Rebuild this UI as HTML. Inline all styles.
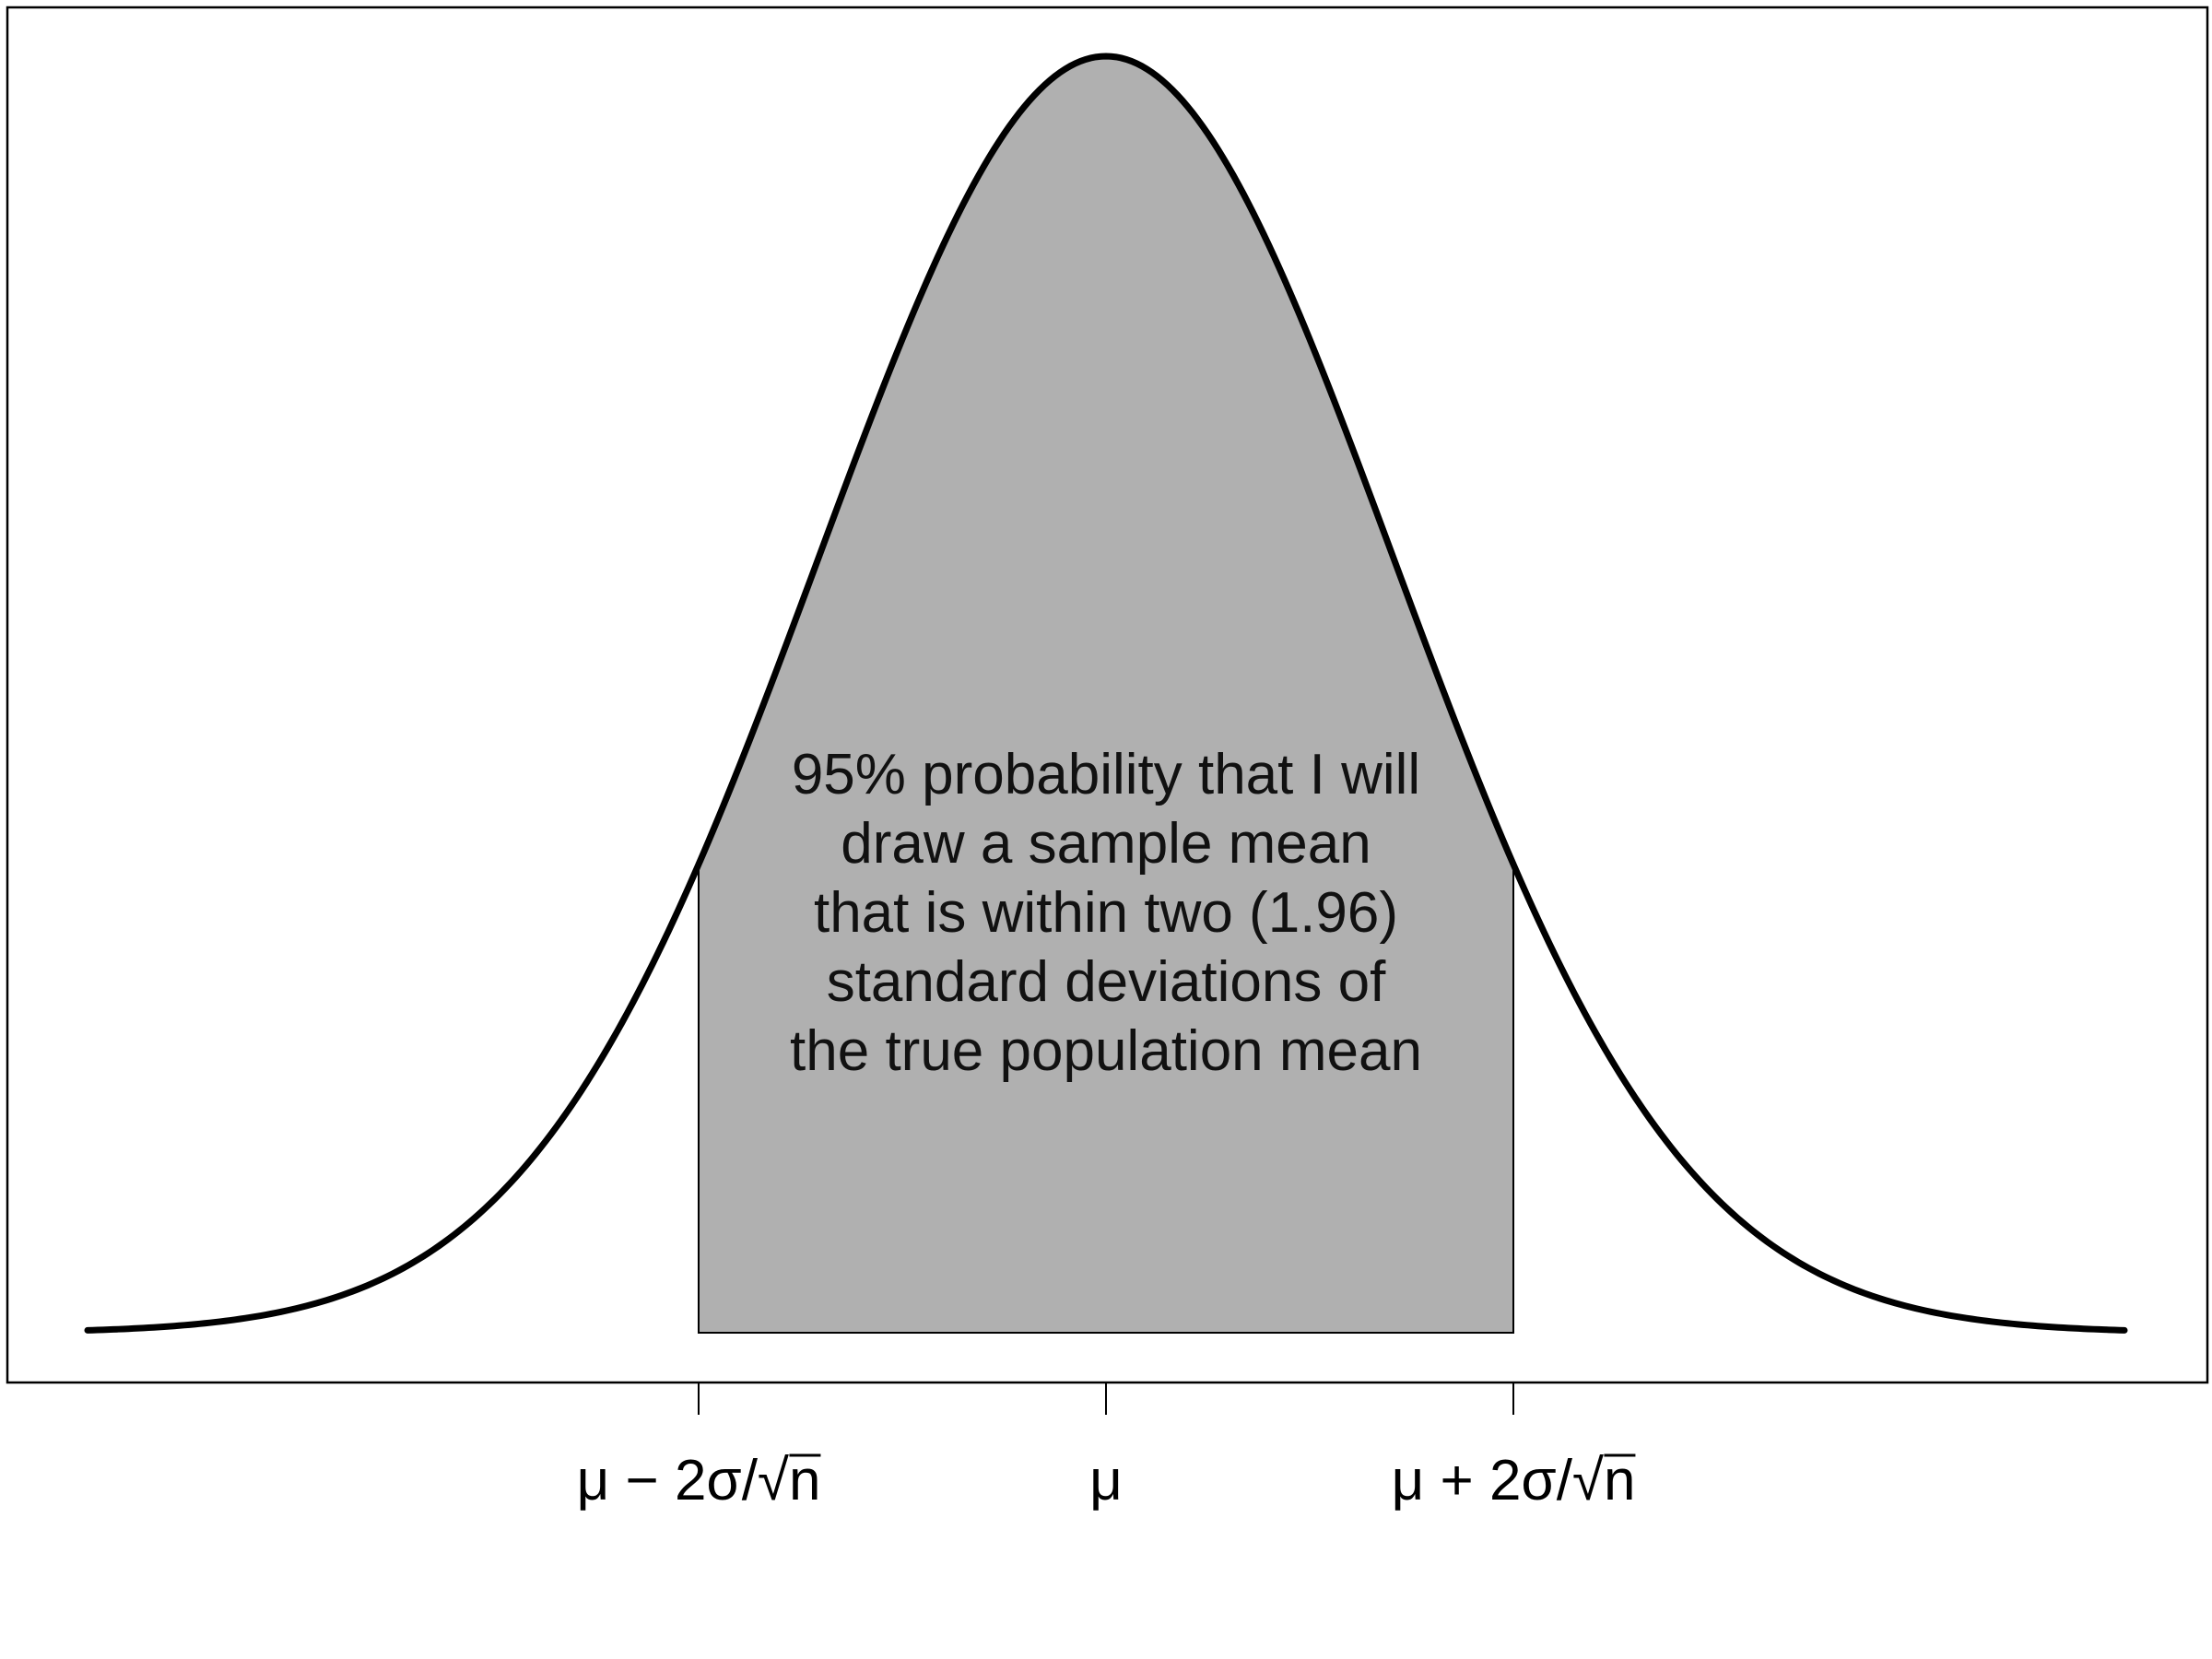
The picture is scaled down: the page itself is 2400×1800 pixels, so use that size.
<!DOCTYPE html>
<html><head><meta charset="utf-8"><style>
html,body{margin:0;padding:0;background:#fff;}
svg{display:block;}
text{font-family:"Liberation Sans",sans-serif;}
</style></head><body>
<svg id="chart" width="2400" height="1800" viewBox="0 0 2400 1800">
<rect x="8" y="8" width="2387" height="1492" fill="none" stroke="#000" stroke-width="2.5"/>
<g id="marks"></g>
<g id="axis"></g>
<g font-size="62" text-anchor="middle" fill="#111">
<text x="1200" y="861">95% probability that I will</text>
<text x="1200" y="936">draw a sample mean</text>
<text x="1200" y="1011">that is within two (1.96)</text>
<text x="1200" y="1086">standard deviations of</text>
<text x="1200" y="1161">the true population mean</text>
</g>
</svg>
<script>
// distribution parameters (standardized units)
const distMean = [0];
const distSd = [1];
const xRange = [-3.54, 3.54];
const shadeRange = [-1.416, 1.416];
const tickValues = [-1.416, 0, 1.416];
const tickLabels = ["μ − 2σ/√n", "μ", "μ + 2σ/√n"];

const NS = "http://www.w3.org/2000/svg";
const px0 = 95, px1 = 2305, yTop = 61, yBase = 1446;
function xs(v){ return px0 + (v - xRange[0]) / (xRange[1] - xRange[0]) * (px1 - px0); }
function ys(d){ return yBase - d * (yBase - yTop); }
function dens(z){ const t=(z-distMean[0])/distSd[0]; return Math.exp(-t*t/2); }

const marks = document.getElementById('marks');
let sp = `M${xs(shadeRange[0])},${yBase}`;
for(let i=0;i<=200;i++){ const z=shadeRange[0]+(shadeRange[1]-shadeRange[0])*i/200; sp+=` L${xs(z)},${ys(dens(z))}`; }
sp += ` L${xs(shadeRange[1])},${yBase} Z`;
const shade = document.createElementNS(NS,'path');
shade.setAttribute('d',sp); shade.setAttribute('fill','#b0b0b0'); shade.setAttribute('stroke','#000'); shade.setAttribute('stroke-width','2');


marks.appendChild(shade);
let cp='';
for(let i=0;i<=400;i++){ const z=xRange[0]+(xRange[1]-xRange[0])*i/400; cp+=(i?' L':'M')+xs(z)+','+ys(dens(z)); }
const curve = document.createElementNS(NS,'path');
curve.setAttribute('d',cp); curve.setAttribute('fill','none'); curve.setAttribute('stroke','#000'); curve.setAttribute('stroke-width','7'); curve.setAttribute('stroke-linecap','round');


marks.appendChild(curve);
const axis = document.getElementById('axis');
tickValues.forEach((v,i)=>{
  const x = xs(v);
  const t = document.createElementNS(NS,'line');
  t.setAttribute('x1',x); t.setAttribute('x2',x); t.setAttribute('y1',1500); t.setAttribute('y2',1535);
  t.setAttribute('stroke','#000'); t.setAttribute('stroke-width','2');
  
  
  axis.appendChild(t);
  const lb = document.createElementNS(NS,'text');
  lb.setAttribute('x',x); lb.setAttribute('y',1627); lb.setAttribute('text-anchor','middle'); lb.setAttribute('font-size','62');
  lb.textContent = tickLabels[i];
  
  
  axis.appendChild(lb);
  if(tickLabels[i].indexOf('√n')>=0){
    const bb = lb.getBBox();
    const ol = document.createElementNS(NS,'line');
    ol.setAttribute('x1',bb.x+bb.width-34); ol.setAttribute('x2',bb.x+bb.width);
    ol.setAttribute('y1',bb.y+7); ol.setAttribute('y2',bb.y+7);
    ol.setAttribute('stroke','#000'); ol.setAttribute('stroke-width','3');
    
    
    axis.appendChild(ol);
  }
});
</script>
</body></html>
